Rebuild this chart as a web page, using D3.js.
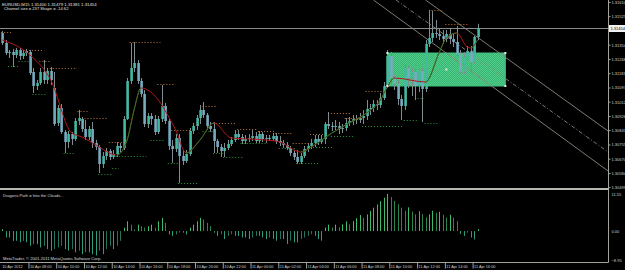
<!DOCTYPE html>
<html><head><meta charset="utf-8">
<script src="https://cdn.jsdelivr.net/npm/d3@7"></script>
<style>html,body{margin:0;padding:0;background:#000;overflow:hidden}</style>
</head><body>
<svg id="c" width="625" height="270"></svg>
<script>
const symbolTitle = "EURUSD,M15  1.31400 1.31479 1.31381 1.31454";
const channelInfo = "Channel size = 237 Shape = -14.62";
const indicatorName = "Dragons Path = Into the Clouds...";
const copyright = "MetaTrader, \u00a9 2001-2011 MetaQuotes Software Corp.";

const opens = [1.31424,1.31364,1.31304,1.31310,1.31292,1.31322,1.31286,1.31304,1.31310,1.31190,
1.31106,1.31124,1.31190,1.31142,1.31196,1.31094,1.30884,1.30974,1.30830,1.30770,
1.30818,1.30788,1.30896,1.30908,1.30848,1.30800,1.30848,1.30764,1.30740,1.30638,
1.30686,1.30716,1.30680,1.30698,1.30746,1.30734,1.30908,1.31136,1.31214,1.31244,
1.31136,1.31058,1.30878,1.30926,1.30908,1.30830,1.30908,1.30986,1.30896,1.30746,
1.30728,1.30794,1.30686,1.30656,1.30698,1.30836,1.30866,1.30914,1.30962,1.30932,
1.30866,1.30848,1.30776,1.30740,1.30716,1.30734,1.30758,1.30782,1.30818,1.30800,
1.30776,1.30788,1.30794,1.30806,1.30776,1.30818,1.30788,1.30794,1.30788,1.30806,
1.30776,1.30764,1.30752,1.30734,1.30704,1.30680,1.30650,1.30686,1.30728,1.30746,
1.30764,1.30788,1.30770,1.30788,1.30878,1.30866,1.30860,1.30866,1.30848,1.30854,
1.30884,1.30896,1.30908,1.30902,1.30914,1.30926,1.30968,1.30974,1.30998,1.30992,
1.31034,1.31106,1.31286,1.31154,1.31118,1.31028,1.30986,1.31214,1.31154,1.31190,
1.31106,1.31196,1.31088,1.31358,1.31394,1.31424,1.31418,1.31406,1.31388,1.31418,
1.31388,1.31370,1.31298,1.31196,1.31280,1.31316,1.31250,1.31400];
const highs = [1.31436,1.31382,1.31322,1.31328,1.31334,1.31334,1.31322,1.31328,1.31322,1.31214,
1.31142,1.31214,1.31262,1.31214,1.31220,1.31190,1.30992,1.30998,1.30842,1.30836,
1.30830,1.30914,1.30962,1.30920,1.30902,1.30866,1.30890,1.30782,1.30752,1.30710,
1.30734,1.30728,1.30722,1.30770,1.30764,1.30926,1.31154,1.31364,1.31370,1.31262,
1.31154,1.31082,1.30944,1.30944,1.30932,1.30926,1.31112,1.31004,1.30908,1.30782,
1.30818,1.30818,1.30722,1.30722,1.30854,1.30884,1.30932,1.30992,1.31010,1.30944,
1.30890,1.30890,1.30788,1.30758,1.30764,1.30782,1.30800,1.30842,1.30842,1.30818,
1.30812,1.30818,1.30842,1.30830,1.30836,1.30830,1.30812,1.30812,1.30824,1.30824,
1.30806,1.30782,1.30770,1.30746,1.30722,1.30722,1.30704,1.30746,1.30764,1.30788,
1.30812,1.30812,1.30812,1.30890,1.30950,1.30890,1.30902,1.30890,1.30878,1.30914,
1.30920,1.30932,1.30932,1.30944,1.30962,1.31022,1.30998,1.31022,1.31022,1.31064,
1.31130,1.31322,1.31310,1.31172,1.31154,1.31052,1.31232,1.31226,1.31214,1.31214,
1.31214,1.31214,1.31382,1.31562,1.31556,1.31502,1.31454,1.31442,1.31442,1.31454,
1.31418,1.31466,1.31322,1.31310,1.31346,1.31346,1.31406,1.31479];
const lows = [1.31352,1.31292,1.31274,1.31220,1.31274,1.31262,1.31268,1.31286,1.31172,1.31064,
1.31082,1.31112,1.31118,1.31118,1.31112,1.30866,1.30866,1.30818,1.30704,1.30734,
1.30752,1.30776,1.30872,1.30830,1.30782,1.30782,1.30734,1.30722,1.30584,1.30614,
1.30662,1.30662,1.30668,1.30680,1.30710,1.30722,1.30902,1.31118,1.31190,1.31118,
1.31040,1.30860,1.30854,1.30872,1.30812,1.30818,1.30890,1.30878,1.30722,1.30644,
1.30710,1.30524,1.30632,1.30644,1.30686,1.30818,1.30842,1.30878,1.30914,1.30842,
1.30830,1.30704,1.30704,1.30680,1.30680,1.30722,1.30746,1.30770,1.30782,1.30758,
1.30758,1.30770,1.30776,1.30764,1.30764,1.30770,1.30764,1.30776,1.30776,1.30758,
1.30746,1.30734,1.30722,1.30686,1.30662,1.30638,1.30638,1.30674,1.30710,1.30728,
1.30740,1.30752,1.30758,1.30758,1.30848,1.30836,1.30842,1.30818,1.30824,1.30836,
1.30866,1.30872,1.30878,1.30884,1.30878,1.30902,1.30932,1.30950,1.30962,1.30974,
1.31022,1.31094,1.31106,1.31082,1.30992,1.30902,1.30962,1.31094,1.31046,1.31022,
1.31070,1.30890,1.31070,1.31340,1.31370,1.31394,1.31382,1.31358,1.31370,1.31358,
1.31340,1.31280,1.31178,1.31178,1.31262,1.31202,1.31238,1.31381];
const closes = [1.31364,1.31304,1.31310,1.31292,1.31322,1.31286,1.31304,1.31316,1.31184,1.31106,
1.31124,1.31190,1.31142,1.31196,1.31142,1.30878,1.30974,1.30830,1.30770,1.30818,
1.30788,1.30896,1.30914,1.30848,1.30800,1.30848,1.30764,1.30740,1.30638,1.30686,
1.30716,1.30680,1.30698,1.30746,1.30734,1.30908,1.31136,1.31214,1.31244,1.31136,
1.31058,1.30878,1.30926,1.30908,1.30830,1.30908,1.30986,1.30896,1.30746,1.30728,
1.30794,1.30686,1.30656,1.30698,1.30836,1.30866,1.30914,1.30962,1.30932,1.30866,
1.30848,1.30776,1.30740,1.30716,1.30734,1.30758,1.30782,1.30818,1.30800,1.30776,
1.30788,1.30794,1.30806,1.30776,1.30818,1.30788,1.30794,1.30788,1.30806,1.30776,
1.30764,1.30752,1.30734,1.30704,1.30680,1.30650,1.30686,1.30728,1.30746,1.30764,
1.30788,1.30770,1.30788,1.30878,1.30866,1.30860,1.30866,1.30848,1.30854,1.30884,
1.30896,1.30908,1.30902,1.30914,1.30926,1.30968,1.30974,1.30998,1.30992,1.31034,
1.31106,1.31286,1.31154,1.31118,1.31028,1.30986,1.31214,1.31154,1.31190,1.31106,
1.31196,1.31088,1.31358,1.31394,1.31424,1.31418,1.31406,1.31388,1.31418,1.31388,
1.31370,1.31298,1.31196,1.31280,1.31316,1.31250,1.31400,1.31454];

// smoothed line (key points)
const maBars = [0,8,14,20,23,27,33,36,38,40,45,48,50,53,57,61,66,76,80,86,90,95,100,105,109,111,113,122,126,128,131,134,135,137];
const maValues = [1.31382,1.31292,1.31142,1.30824,1.30800,1.30752,1.30692,1.30782,1.30962,1.31094,1.31022,1.30920,1.30842,1.30704,1.30782,1.30884,1.30794,1.30782,1.30770,1.30710,1.30752,1.30824,1.30884,1.30944,1.31022,1.31100,1.31154,1.31130,1.31310,1.31394,1.31424,1.31340,1.31334,1.31382];

// dotted fractal levels
const resFrom  = [0,8,11,14,22,24,31,37,45,49,58,61,68,74,79,84,89,95,99,105,124,128];
const resTo    = [2,11,13,21,24,30,35,45,49,54,61,67,73,78,83,88,93,100,104,110,126,134];
const resPrice = [1.31430,1.31322,1.31256,1.31214,1.30956,1.30914,1.30770,1.31370,1.31118,1.30842,1.30986,1.30884,1.30848,1.30836,1.30824,1.30764,1.30818,1.30944,1.30914,1.31076,1.31562,1.31478];
const supFrom  = [2,5,9,18,28,32,33,43,48,51,58,61,64,69,80,85,89,95,104,116,120,122];
const supTo    = [4,7,12,20,31,33,41,46,50,56,60,63,69,76,84,91,95,101,115,119,121,125];
const supPrice = [1.31226,1.31256,1.31058,1.30704,1.30578,1.30614,1.30686,1.30782,1.30644,1.30524,1.30836,1.30704,1.30680,1.30764,1.30734,1.30644,1.30740,1.30806,1.30866,1.30902,1.31034,1.30884];

// green box object and channel lines
const boxBars = [111, 145];
const boxPrices = [1.31304, 1.31106];
const channelFromBars = [122, 113.5, 107];
const channelToBars = [175, 175, 175];
const channelFromPrices = [1.31622, 1.31622, 1.31622];
const channelToPrices = [1.30830, 1.30704, 1.30590];

// sub-window histogram
const histValues = [0.6,
-2.0,-2.0,-3.05,-3.05,-3.5,-3.05,-3.5,-4.6,-4.1,-4.1,-5.1,-4.6,-5.6,-6.1,-5.6,-5.1,-4.6,-5.6,-6.1,-5.6,-6.6,-6.1,-7.2,-6.6,-6.6,-7.2,-7.6,-6.1,-7.2,-5.6,-4.6,-5.6,-4.6,-3.05,
1.05,3.05,2.0,0.5,2.0,1.5,1.05,1.5,2.0,1.05,3.05,4.1,2.6,
-1.05,-1.5,-1.05,-0.5,-0.5,-1.05,
1.05,2.0,3.05,4.1,3.6,2.6,1.5,
-0.5,-1.5,-1.0,-2.5,-1.5,-1.0,-1.5,-1.5,-2.0,-2.0,-2.5,-2.0,-1.5,-1.5,-2.0,-2.5,-2.0,-2.5,-3.0,-2.5,-2.5,-4.0,-3.0,-3.5,-3.5,-2.5,-2.0,-1.5,-1.0,-1.5,-2.5,-3.0,
1.1,2.0,1.1,2.0,1.2,2.1,3.0,2.1,3.1,4.0,5.0,4.1,5.2,6.3,7.3,8.3,9.3,10.4,11.55,10.6,9.4,8.4,7.3,6.3,7.4,6.1,5.2,6.2,5.3,4.3,5.2,6.3,5.7,6.0,5.1,4.2,5.1,4.2,3.1,-0.9,-1.5,-0.5,-2.0,-2.6,0.6];

const priceTicks = [1.31610,1.31525,1.31439,1.31354,1.31268,1.31183,1.31097,1.31012,1.30926,1.30841,1.30755,1.30670,1.30584,1.30499];
const histTicks = [11.55, 0, -8.95];
const timeTicks = ["2012-04-10 06:00","2012-04-10 08:00","2012-04-10 10:00","2012-04-10 12:00","2012-04-10 14:00","2012-04-10 16:00","2012-04-10 18:00","2012-04-10 20:00","2012-04-10 22:00","2012-04-11 00:00","2012-04-11 02:00","2012-04-11 04:00","2012-04-11 06:00","2012-04-11 08:00","2012-04-11 10:00","2012-04-11 12:00","2012-04-11 14:00","2012-04-11 16:00"];
const timeTickLabels = ["10 Apr 2012","10 Apr 08:00","10 Apr 10:00","10 Apr 12:00","10 Apr 14:00","10 Apr 16:00","10 Apr 18:00","10 Apr 20:00","10 Apr 22:00","11 Apr 00:00","11 Apr 02:00","11 Apr 04:00","11 Apr 06:00","11 Apr 08:00","11 Apr 10:00","11 Apr 12:00","11 Apr 14:00","11 Apr 16:00"];

// ---------------- drawing ----------------
const svg = d3.select('#c');
const FONT = "'Liberation Sans', Arial, sans-serif";
const parseT = d3.timeParse("%Y-%m-%d %H:%M");
const t0 = parseT(timeTicks[0]);
const barMs = 15 * 60 * 1000;
const tb = i => new Date(t0.getTime() + i * barMs);
const N = closes.length;
const x = d3.scaleTime().domain([tb(0), tb(N - 1)]).range([2.2, 2.2 + (N - 1) * 3.47]);
const y = d3.scaleLinear().domain([1.30500, 1.31622]).range([187, 0]);
const hy = d3.scaleLinear().domain([-8.95, 11.55]).range([259.8, 194]);
const AX = 608.5;

svg.append('rect').attr('width', 625).attr('height', 270).attr('fill', '#000');
const defs = svg.append('defs');
defs.append('clipPath').attr('id', 'mainClip').append('rect').attr('x', 0).attr('y', 0).attr('width', 608).attr('height', 187);
const pat = defs.append('pattern').attr('id', 'boxPat').attr('width', 2).attr('height', 2).attr('patternUnits', 'userSpaceOnUse');
pat.append('rect').attr('width', 2).attr('height', 2).attr('fill', '#36b672');
pat.append('rect').attr('width', 1).attr('height', 1).attr('fill', '#52cc8a');
pat.append('rect').attr('x', 1).attr('y', 1).attr('width', 1).attr('height', 1).attr('fill', '#52cc8a');

const main = svg.append('g').attr('clip-path', 'url(#mainClip)');

// box
const bx0 = x(tb(boxBars[0])), bx1 = x(tb(boxBars[1]));
const by0 = y(boxPrices[0]), by1 = y(boxPrices[1]);
main.append('rect').attr('x', bx0).attr('y', by0).attr('width', bx1 - bx0).attr('height', by1 - by0)
  .attr('fill', 'url(#boxPat)').attr('stroke', '#3fbf7f').attr('stroke-width', 1);

// bid line
const bidY = Math.round(y(closes[N - 1])) + 0.5;
main.append('line').attr('x1', 0).attr('x2', 608).attr('y1', bidY).attr('y2', bidY).attr('stroke', '#8a8a8a').attr('stroke-width', 1);

// channel lines
const chDash = [null, '4,2,1,2', null];
channelFromBars.forEach((b, k) => {
  main.append('line')
    .attr('x1', x(tb(b))).attr('y1', y(channelFromPrices[k]))
    .attr('x2', x(tb(channelToBars[k]))).attr('y2', y(channelToPrices[k]))
    .attr('stroke', '#8d887a').attr('stroke-width', 0.9).attr('stroke-dasharray', chDash[k]);
});

// candles
const bars = d3.range(N).map(i => ({ i, t: tb(i), o: opens[i], h: highs[i], l: lows[i], c: closes[i] }));
main.selectAll('line.wick').data(bars).join('line').attr('class', 'wick')
  .attr('x1', d => Math.round(x(d.t)) + 0.5).attr('x2', d => Math.round(x(d.t)) + 0.5)
  .attr('y1', d => y(d.h)).attr('y2', d => y(d.l))
  .attr('stroke', '#7f8c90').attr('stroke-width', 1);
main.selectAll('rect.body').data(bars).join('rect').attr('class', 'body')
  .attr('x', d => Math.round(x(d.t)) - 0.7).attr('width', 2.6)
  .attr('y', d => y(Math.max(d.o, d.c)))
  .attr('height', d => Math.max(1, Math.abs(y(d.o) - y(d.c))))
  .attr('fill', d => d.c >= d.o ? '#45b8a2' : '#78aac0');

// fractal levels
function levels(from, to, price, color) {
  main.append('g').selectAll('line').data(price).join('line')
    .attr('x1', (p, k) => x(tb(from[k])) - 1).attr('x2', (p, k) => x(tb(to[k])) + 2)
    .attr('y1', p => Math.round(y(p)) + 0.5).attr('y2', p => Math.round(y(p)) + 0.5)
    .attr('stroke', color).attr('stroke-width', 1).attr('stroke-dasharray', '1,2');
}
levels(resFrom, resTo, resPrice, '#c07838');
levels(supFrom, supTo, supPrice, '#2f9a3a');

// smoothed line: red when falling, green when rising
const maPts = maBars.map((b, k) => ({ t: tb(b), v: maValues[k] }));
const maLine = d3.line().x(d => x(d.t)).y(d => y(d.v)).curve(d3.curveMonotoneX);
main.append('path').attr('d', maLine(maPts)).attr('fill', 'none').attr('stroke', '#b3161a').attr('stroke-width', 1);
maPts.forEach((p, k) => {
  if (k === 0) return;
  if (p.v > maPts[k - 1].v) {
    const id = 'up' + k;
    const xa = x(maPts[k - 1].t), xb = x(p.t);
    defs.append('clipPath').attr('id', id).append('rect').attr('x', xa).attr('y', 0).attr('width', xb - xa).attr('height', 187);
    main.append('path').attr('d', maLine(maPts)).attr('fill', 'none').attr('stroke', '#1e7d24').attr('stroke-width', 1)
      .attr('clip-path', `url(#${id})`);
  }
});

// box corner markers
[[bx0, by0], [bx1, by0], [bx0, by1], [bx1, by1], [(bx0 + bx1) / 2, (by0 + by1) / 2]].forEach(([cx, cy]) => {
  main.append('rect').attr('x', cx - 1).attr('y', cy - 1).attr('width', 2).attr('height', 2).attr('fill', '#e8e8e8');
});

// titles
svg.append('text').attr('x', 2).attr('y', 4.8).attr('dominant-baseline', 'middle')
  .attr('font-family', FONT).attr('font-size', 4.3).attr('fill', '#e0e0e0').text(symbolTitle);
svg.append('text').attr('x', 4).attr('y', 9).attr('dominant-baseline', 'middle')
  .attr('font-family', FONT).attr('font-size', 4.1).attr('fill', '#e0e0e0').text(channelInfo);

// right price axis
const yAxis = d3.axisRight(y).tickValues(priceTicks.filter(p => Math.abs(y(p) - y(closes[N - 1])) > 5))
  .tickSize(2).tickPadding(1).tickFormat(d3.format('.5f'));
const gY = svg.append('g').attr('transform', `translate(${AX},0)`).call(yAxis);
gY.select('.domain').remove();
gY.selectAll('line').attr('stroke', '#a0a0a0');
gY.selectAll('text').attr('font-family', FONT).attr('font-size', 4).attr('fill', '#cfcfcf').attr('dy', '0.35em');

// bid label
svg.append('rect').attr('x', 609).attr('y', bidY - 3.5).attr('width', 16).attr('height', 7).attr('fill', '#f2f2f2');
svg.append('text').attr('x', 610.5).attr('y', bidY).attr('dominant-baseline', 'middle')
  .attr('font-family', FONT).attr('font-size', 4).attr('fill', '#000').text(d3.format('.5f')(closes[N - 1]));

// frame lines
svg.append('line').attr('x1', AX).attr('x2', AX).attr('y1', 0).attr('y2', 262.5).attr('stroke', '#a3a39b').attr('stroke-width', 1);
svg.append('rect').attr('x', 0).attr('y', 188).attr('width', AX).attr('height', 2).attr('fill', '#b8b8b0');
svg.append('line').attr('x1', 0).attr('x2', AX).attr('y1', 262.5).attr('y2', 262.5).attr('stroke', '#a3a39b').attr('stroke-width', 1);

// histogram
const z = hy(0);
svg.append('g').selectAll('line').data(histValues).join('line')
  .attr('x1', (v, i) => Math.round(x(tb(i))) + 0.5).attr('x2', (v, i) => Math.round(x(tb(i))) + 0.5)
  .attr('y1', z).attr('y2', v => hy(v))
  .attr('stroke', (v, i) => {
    const prev = i > 0 ? histValues[i - 1] : v;
    if (v >= 0) return v >= prev ? '#3dbb6c' : '#2b8550';
    return v <= prev ? '#2f9c80' : '#25735f';
  })
  .attr('stroke-width', 1);

const hAxis = d3.axisRight(hy).tickValues(histTicks).tickSize(0).tickPadding(3).tickFormat(d3.format('.2f'));
const gH = svg.append('g').attr('transform', `translate(${AX},0)`).call(hAxis);
gH.select('.domain').remove();
gH.selectAll('text').attr('font-family', FONT).attr('font-size', 4).attr('fill', '#cfcfcf').attr('dy', '0.35em');

svg.append('text').attr('x', 3).attr('y', 196).attr('dominant-baseline', 'middle')
  .attr('font-family', FONT).attr('font-size', 4.1).attr('fill', '#d8d8d8').text(indicatorName);
svg.append('text').attr('x', 3).attr('y', 259).attr('dominant-baseline', 'middle')
  .attr('font-family', FONT).attr('font-size', 4.1).attr('fill', '#d8d8d8').text(copyright);

// time axis
const tTimes = timeTicks.map(parseT);
const xAxis = d3.axisBottom(x).tickValues(tTimes).tickSize(6).tickPadding(0)
  .tickFormat((d, i) => timeTickLabels[i]);
const gX = svg.append('g').attr('transform', 'translate(0,262.5)').call(xAxis);
gX.select('.domain').remove();
gX.selectAll('.tick line').attr('stroke', '#a0a0a0').attr('transform', 'translate(-1.5,0)')
  .attr('opacity', (d, i) => i === 0 ? 0 : 1);
gX.selectAll('.tick text').attr('font-family', FONT).attr('font-size', 3.8).attr('fill', '#cfcfcf')
  .attr('text-anchor', 'start').attr('x', -0.5).attr('y', 4).attr('dy', '0.35em');
</script>
</body></html>
